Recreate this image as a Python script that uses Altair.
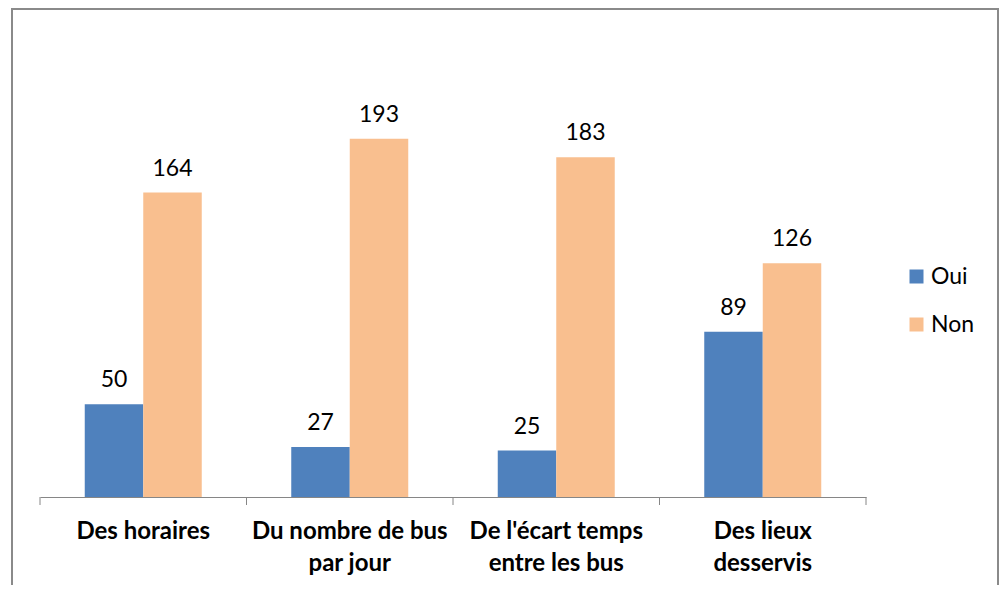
import json
import altair as alt
import pandas as pd

categories = ["Des horaires", "Du nombre de bus par jour",
              "De l'écart temps entre les bus", "Des lieux desservis"]
label_lines = [["Des horaires"], ["Du nombre de bus", "par jour"],
               ["De l'écart temps", "entre les bus"], ["Des lieux", "desservis"]]
series = ["Oui", "Non"]
oui = [50, 27, 25, 89]
non = [164, 193, 183, 126]
colors = ["#4F81BD", "#F9BF8F"]

rows = []
for c, o, n in zip(categories, oui, non):
    rows.append({"cat": c, "serie": "Oui", "val": o})
    rows.append({"cat": c, "serie": "Non", "val": n})
df = pd.DataFrame(rows)

W, H = 826, 464
FONT = "Lato"
label_map = json.dumps(dict(zip(categories, label_lines)), ensure_ascii=False)

xenc = alt.X("cat:N", sort=categories,
             scale=alt.Scale(paddingInner=0, paddingOuter=0),
             axis=alt.Axis(title=None, labelAngle=0, ticks=False,
                           domainColor="#868686", domainWidth=1,
                           labelFont=FONT, labelFontWeight="bold",
                           labelFontSize=24, labelColor="black",
                           labelPadding=22, labelLineHeight=32,
                           labelLimit=400, labelOverlap=False,
                           labelExpr=label_map + "[datum.label]"))
xoff = alt.XOffset("serie:N", sort=series,
                   scale=alt.Scale(paddingOuter=0.765, paddingInner=0))
yenc = alt.Y("val:Q", scale=alt.Scale(domain=[0, 250]), axis=None)
color = alt.Color("serie:N", sort=series,
                  scale=alt.Scale(domain=series, range=colors),
                  legend=alt.Legend(title=None, orient="none", legendX=865,
                                    legendY=232, symbolType="square",
                                    symbolSize=196, symbolStrokeWidth=0,
                                    labelFont=FONT, labelFontSize=23,
                                    labelColor="black", rowPadding=24,
                                    labelOffset=3, padding=0))

base = alt.Chart(df)
bars = base.mark_bar().encode(x=xenc, xOffset=xoff, y=yenc, color=color)
texts = base.mark_text(baseline="alphabetic", dy=-17, font=FONT,
                       fontSize=23, color="black").encode(
    x=alt.X("cat:N", sort=categories), xOffset=xoff, y=yenc, text="val:Q")

cat_df = pd.DataFrame({"cat": categories})
ticks_start = alt.Chart(cat_df).mark_rule(color="#868686").encode(
    x=alt.X("cat:N", sort=categories, bandPosition=0),
    y=alt.value(H), y2=alt.value(H + 8))
ticks_end = alt.Chart(cat_df.tail(1)).mark_rule(color="#868686").encode(
    x=alt.X("cat:N", sort=categories, bandPosition=1),
    y=alt.value(H), y2=alt.value(H + 8))

frame = alt.Chart(pd.DataFrame({"f": [0]})).mark_rect(
    fill=None, stroke="#8a8a8a", strokeWidth=2).encode(
    x=alt.value(-28), x2=alt.value(958), y=alt.value(-24), y2=alt.value(600))

chart = alt.layer(frame, bars, texts, ticks_start, ticks_end).properties(
    width=W, height=H,
    autosize=alt.AutoSizeParams(type="none"),
    padding={"left": 32, "top": 25, "right": 134, "bottom": 88},
).configure_view(stroke=None)

chart.save("out.html", embed_options={"renderer": "svg", "actions": False})
